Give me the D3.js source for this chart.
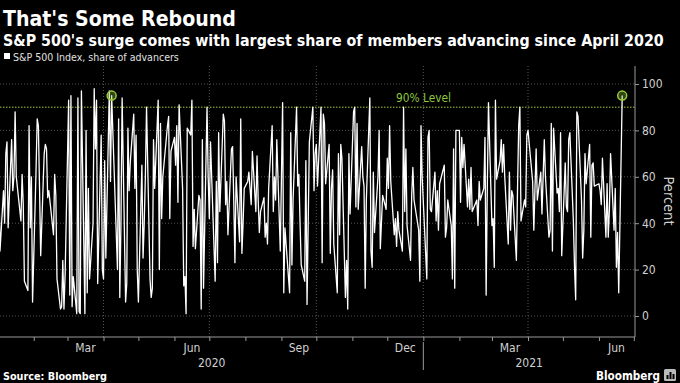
<!DOCTYPE html>
<html><head><meta charset="utf-8">
<script src="https://cdn.jsdelivr.net/npm/d3@7"></script>
<style>html,body{margin:0;padding:0;background:#000;}svg{display:block;}</style>
</head><body><svg id="c" width="680" height="383"></svg>
<script>
// ---------- data ----------
const startDate = "2020-01-02";
const endDate = "2021-06-21";
const holidays = ["2020-01-20","2020-02-17","2020-04-10","2020-05-25","2020-07-03","2020-09-07","2020-11-26","2020-12-25",
                  "2021-01-01","2021-01-18","2021-02-15","2021-04-02","2021-05-31"];
const adv2020 = [
 59,28,54,40,70,75,38,76,54,60,88,60,41,61,48,15,11,82,38,60,6,
 63,85,82,55,26,70,74,72,51,54,35,61,52,16,3,4,24,3,18,
 93,9,95,4,17,1,94,2,1,97,1,80,10,55,16,40,98,72,93,14,78,20,
 16,67,25,97,58,95,80,20,85,8,40,94,6,14,81,54,66,87,55,78,20,
 6,65,25,40,60,90,16,8,12,76,55,93,20,83,42,60,82,86,42,71,
 77,65,82,49,91,55,13,17,1,81,78,93,30,46,29,52,50,3,76,12,90,60,
 42,75,15,58,23,79,45,87,84,48,58,35,72,73,50,23,60,32,85,27,40,55,
 58,62,55,48,71,45,69,50,36,45,51,34,40,31,55,82,45,60,50,76,28,
 60,92,10,38,10,79,22,50,90,56,61,40,22,15,67,5,40,75,90,54,70,
 74,56,90,23,87,83,57,74,27,55,63,31,10,70,35,74,68,8,24,3,70,44,
 88,90,47,83,46,73,60,56,12,50,94,28,21,62,36,60,80,29,52,46,
 68,55,82,58,35,42,30,45,37,28,90,45,72,39,24,52,64,50,37,15,82,60
];
const adv2021 = [
 16,77,80,46,45,62,41,54,37,57,65,34,38,50,39,16,72,12,80,
 80,49,77,64,74,47,59,46,64,45,50,39,58,50,55,77,9,55,92,
 39,42,21,93,59,67,76,62,74,60,31,62,37,54,52,24,55,82,90,41,50,47,78,
 80,58,37,55,72,50,62,44,60,76,60,34,37,83,28,81,53,55,45,79,26,
 66,47,45,76,79,41,21,7,88,86,50,25,37,70,57,74,34,65,66,56,
 57,54,48,68,34,57,34,46,70,37,55,21,36,10,95
];
const circledDates = ["2020-04-08","2021-06-21"];
const yTicks = [0,20,40,60,80,100];
const monthLabels = ["Mar","Jun","Sep","Dec","Mar","Jun"];
const monthLabelMonths = ["2020-03","2020-06","2020-09","2020-12","2021-03","2021-06"];
const yearLabels = ["2020","2021"];
const quarterLines = ["2020-04-01","2020-07-01","2020-10-01","2021-01-01","2021-04-01"];
const levelValue = 90;
const levelLabel = "90% Level";
const titleText = "That's Some Rebound";
const subtitleText = "S&P 500's surge comes with largest share of members advancing since April 2020";
const legendText = "S&P 500 Index, share of advancers";
const axisTitle = "Percent";
const sourceText = "Source: Bloomberg";

// ---------- build series ----------
const pDay = d3.timeParse("%Y-%m-%d");
const fDay = d3.timeFormat("%Y-%m-%d");
const hol = new Set(holidays);
const tradingDays = d3.timeDay.range(pDay(startDate), d3.timeDay.offset(pDay(endDate), 1))
  .filter(d => d.getDay() !== 0 && d.getDay() !== 6 && !hol.has(fDay(d)));
const values = adv2020.concat(adv2021);
const series = tradingDays.map((d, i) => ({date: d, v: values[i]})).filter(d => d.v != null);

// ---------- layout ----------
const svg = d3.select("#c");
const font = "'Liberation Sans', Arial, sans-serif";
const condFont = "'DejaVu Sans Condensed', 'Liberation Sans Narrow', 'Liberation Sans', sans-serif";
const P = {left: 0, right: 635, top: 66, bottom: 337};
const x = d3.scaleTime().domain([new Date(2020,0,3), new Date(2021,6,2)]).range([P.left, P.right]);
const y = d3.scaleLinear().domain([0,100]).range([316,84]);

function fit(sel, target){
  const w = sel.node().getComputedTextLength();
  const fs = parseFloat(sel.attr("font-size"));
  sel.attr("font-size", (fs*target/w).toFixed(2));
  return sel;
}

svg.append("rect").attr("width",680).attr("height",383).attr("fill","#000");

// titles
fit(svg.append("text").attr("x",3).attr("y",26).attr("font-family",condFont).attr("font-weight","bold")
  .attr("font-size",22).attr("fill","#fff").text(titleText), 233);
fit(svg.append("text").attr("x",3).attr("y",45.5).attr("font-family",condFont).attr("font-weight","bold")
  .attr("font-size",16).attr("fill","#fff").text(subtitleText), 661);
// legend
svg.append("rect").attr("x",4).attr("y",53).attr("width",6).attr("height",6).attr("fill","#fff");
fit(svg.append("text").attr("x",13).attr("y",60.5).attr("font-family",condFont)
  .attr("font-size",11).attr("fill","#e0e0e0").text(legendText), 166);

// grid
const grid = svg.append("g");
grid.selectAll("line.h").data(yTicks).join("line")
  .attr("x1",P.left).attr("x2",P.right).attr("y1",d=>y(d)).attr("y2",d=>y(d))
  .attr("stroke","#555").attr("stroke-width",1).attr("stroke-dasharray","1,2");
grid.selectAll("line.v").data(quarterLines).join("line")
  .attr("x1",d=>x(pDay(d))).attr("x2",d=>x(pDay(d))).attr("y1",P.top).attr("y2",P.bottom)
  .attr("stroke","#555").attr("stroke-width",1).attr("stroke-dasharray","1,2");

// 90% level
svg.append("line").attr("x1",P.left).attr("x2",P.right).attr("y1",y(levelValue)).attr("y2",y(levelValue))
  .attr("stroke","#a4cc3c").attr("stroke-width",1).attr("stroke-dasharray","1.5,1.5");
fit(svg.append("text").attr("x",396).attr("y",101.5).attr("font-family",condFont)
  .attr("font-size",12.5).attr("fill","#8dc63f").text(levelLabel), 55);

// line
svg.append("clipPath").attr("id","clip").append("rect")
  .attr("x",P.left).attr("y",P.top-10).attr("width",P.right-P.left).attr("height",P.bottom-P.top+10);
svg.append("path").datum(series).attr("clip-path","url(#clip)")
  .attr("fill","none").attr("stroke","#fff").attr("stroke-width",1.3).attr("stroke-linejoin","round")
  .attr("d", d3.line().x(d=>x(d.date)).y(d=>y(d.v)));

// circles
const circ = series.filter(d => circledDates.includes(fDay(d.date)));
svg.selectAll("circle.hl").data(circ).join("circle")
  .attr("cx",d=>x(d.date)).attr("cy",d=>y(d.v)).attr("r",4.5)
  .attr("fill","rgba(140,198,63,0.35)").attr("stroke","#9acd32").attr("stroke-width",1.5);

// right axis
svg.append("line").attr("x1",P.right).attr("x2",P.right).attr("y1",P.top).attr("y2",P.bottom)
  .attr("stroke","#999").attr("stroke-width",1);
const ra = svg.append("g").attr("transform",`translate(${P.right},0)`)
  .call(d3.axisRight(y).tickValues(yTicks).tickSize(4).tickPadding(3));
ra.select(".domain").remove();
ra.selectAll("line").attr("stroke","#999");
ra.selectAll("text").attr("fill","#d0d0d0").attr("font-size",12).attr("font-family",condFont);
svg.append("text").attr("transform","translate(664,201) rotate(90)").attr("text-anchor","middle")
  .attr("font-family",condFont).attr("font-size",14.5).attr("fill","#d0d0d0").text(axisTitle);

// bottom axis
svg.append("line").attr("x1",P.left).attr("x2",P.right).attr("y1",P.bottom).attr("y2",P.bottom)
  .attr("stroke","#999").attr("stroke-width",1);
const ba = svg.append("g").attr("transform",`translate(0,${P.bottom})`)
  .call(d3.axisBottom(x).ticks(d3.timeMonth.every(1)).tickSize(4).tickFormat(""));
ba.select(".domain").remove();
ba.selectAll("line").attr("stroke","#999");
const pMonth = d3.timeParse("%Y-%m");
svg.selectAll("text.month").data(monthLabels).join("text")
  .attr("x",(d,i)=>{const m=pMonth(monthLabelMonths[i]); return (x(m)+x(d3.timeMonth.offset(m,1)))/2;})
  .attr("y",352).attr("text-anchor","middle").attr("font-family",condFont).attr("font-size",12)
  .attr("fill","#d0d0d0").text(d=>d);
const yb = new Date(2021,0,1);
const yearCenters = [(x.range()[0]+x(yb))/2, (x(yb)+x.range()[1])/2];
svg.selectAll("text.year").data(yearLabels).join("text")
  .attr("x",(d,i)=>yearCenters[i]).attr("y",367).attr("text-anchor","middle")
  .attr("font-family",condFont).attr("font-size",12).attr("fill","#d0d0d0").text(d=>d);
svg.append("line").attr("x1",x(yb)).attr("x2",x(yb)).attr("y1",342).attr("y2",370)
  .attr("stroke","#999").attr("stroke-width",1);

// footer
fit(svg.append("text").attr("x",3).attr("y",380).attr("font-family",condFont).attr("font-weight","bold")
  .attr("font-size",10).attr("fill","#fff").text(sourceText), 104);
fit(svg.append("text").attr("x",596).attr("y",380).attr("font-family",condFont).attr("font-weight","bold")
  .attr("font-size",13).attr("fill","#fff").text("Bloomberg"), 64);
const ic = svg.append("g").attr("transform","translate(664,369)");
ic.append("rect").attr("width",12).attr("height",12).attr("rx",1.5).attr("fill","#bbb");
ic.append("rect").attr("x",2.5).attr("y",6).attr("width",2).attr("height",4).attr("fill","#000");
ic.append("rect").attr("x",5.5).attr("y",3).attr("width",2).attr("height",7).attr("fill","#000");
ic.append("rect").attr("x",8.5).attr("y",5).attr("width",2).attr("height",5).attr("fill","#000");
</script></body></html>
